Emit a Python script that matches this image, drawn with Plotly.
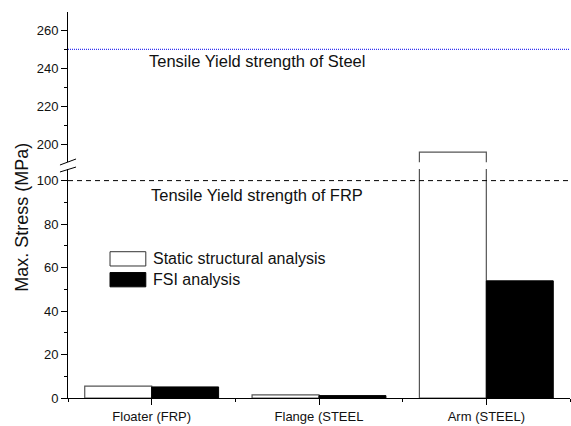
import plotly.graph_objects as go

# Data
categories = ["Floater (FRP)", "Flange (STEEL", "Arm (STEEL)"]
static_stress = [5.5, 1.4, 196.0]
fsi_stress = [5.1, 1.1, 53.9]
steel_yield = 250
frp_yield = 100
lower_ticks = [0, 20, 40, 60, 80, 100]
upper_ticks = [200, 220, 240, 260]
series_names = ["Static structural analysis", "FSI analysis"]

FONT = "Liberation Sans, Arial, sans-serif"
x = list(range(len(categories)))

fig = go.Figure()

# Same bars drawn on the lower and upper (broken) segments of the y axis
for xa, ya in [("x", "y"), ("x2", "y2")]:
    fig.add_bar(
        x=x, y=static_stress, name=series_names[0], xaxis=xa, yaxis=ya,
        marker=dict(color="white", line=dict(color="#555555", width=1.2)),
        showlegend=False,
    )
    fig.add_bar(
        x=x, y=fsi_stress, name=series_names[1], xaxis=xa, yaxis=ya,
        marker=dict(color="black", line=dict(color="black", width=1)),
        showlegend=False,
    )

axis_common = dict(
    showgrid=False, zeroline=False, showline=True, linecolor="black", linewidth=1,
    ticks="outside", ticklen=6, tickcolor="black", tickwidth=1,
    tickfont=dict(family=FONT, size=13, color="#111111"),
)

fig.update_layout(
    width=571, height=426,
    margin=dict(l=68, r=1, t=12, b=28),
    paper_bgcolor="white", plot_bgcolor="white",
    barmode="group", bargap=0.2, bargroupgap=0,
    showlegend=False,
    xaxis=dict(
        **axis_common, range=[-0.5, 2.5], tickvals=x, ticktext=categories,
        anchor="y",
        minor=dict(tickvals=[-0.5, 0.5, 1.5, 2.5], ticks="outside", ticklen=3,
                   tickcolor="black"),
    ),
    xaxis2=dict(matches="x", anchor="y2", visible=False),
    yaxis=dict(
        **axis_common, domain=[0, 0.593], range=[0, 105.3], tickvals=lower_ticks,
        anchor="x",
        minor=dict(tick0=0, dtick=10, ticks="outside", ticklen=3, tickcolor="black"),
    ),
    yaxis2=dict(
        **axis_common, domain=[0.611, 1], range=[190.7, 269.6], tickvals=upper_ticks,
        anchor="x2",
        minor=dict(tick0=0, dtick=10, ticks="outside", ticklen=3, tickcolor="black"),
    ),
)

# Yield-strength reference lines
fig.add_shape(type="line", xref="x domain", x0=0, x1=1, yref="y2",
              y0=steel_yield, y1=steel_yield,
              line=dict(color="#0000ee", width=1, dash="1px,1px"))
fig.add_shape(type="line", xref="x domain", x0=0, x1=1, yref="y",
              y0=frp_yield, y1=frp_yield,
              line=dict(color="black", width=1, dash="5px,4px"))

fig.add_annotation(text="Tensile Yield strength of Steel", xref="paper", yref="paper",
                   x=0.158, y=0.873, xanchor="left", yanchor="middle", showarrow=False,
                   font=dict(family=FONT, size=16.5, color="#111111"))
fig.add_annotation(text="Tensile Yield strength of FRP", xref="paper", yref="paper",
                   x=0.161, y=0.526, xanchor="left", yanchor="middle", showarrow=False,
                   font=dict(family=FONT, size=16.5, color="#111111"))

# Axis break marks
for y0, y1 in [(0.6036, 0.6192), (0.5855, 0.5984)]:
    fig.add_shape(type="line", xref="paper", yref="paper", x0=-0.016, x1=0.016,
                  y0=y0, y1=y1, line=dict(color="black", width=1))

# Y axis title spanning both segments
fig.add_annotation(text="Max. Stress (MPa)", xref="paper", yref="paper",
                   x=-0.092, y=0.469, textangle=-90, showarrow=False,
                   xanchor="center", yanchor="middle",
                   font=dict(family=FONT, size=18, color="#111111"))

# Legend
legend_items = [
    (series_names[0], "white", "#333333", 0.342, 0.379),
    (series_names[1], "black", "black", 0.288, 0.325),
]
for name, fill, edge, y0, y1 in legend_items:
    fig.add_shape(type="rect", xref="paper", yref="paper", x0=0.0837, x1=0.155,
                  y0=y0, y1=y1, fillcolor=fill, line=dict(color=edge, width=1))
    fig.add_annotation(text=name, xref="paper", yref="paper", x=0.165,
                       y=(y0 + y1) / 2, xanchor="left", yanchor="middle",
                       showarrow=False, font=dict(family=FONT, size=16, color="#111111"))

fig.write_html("out.html")
